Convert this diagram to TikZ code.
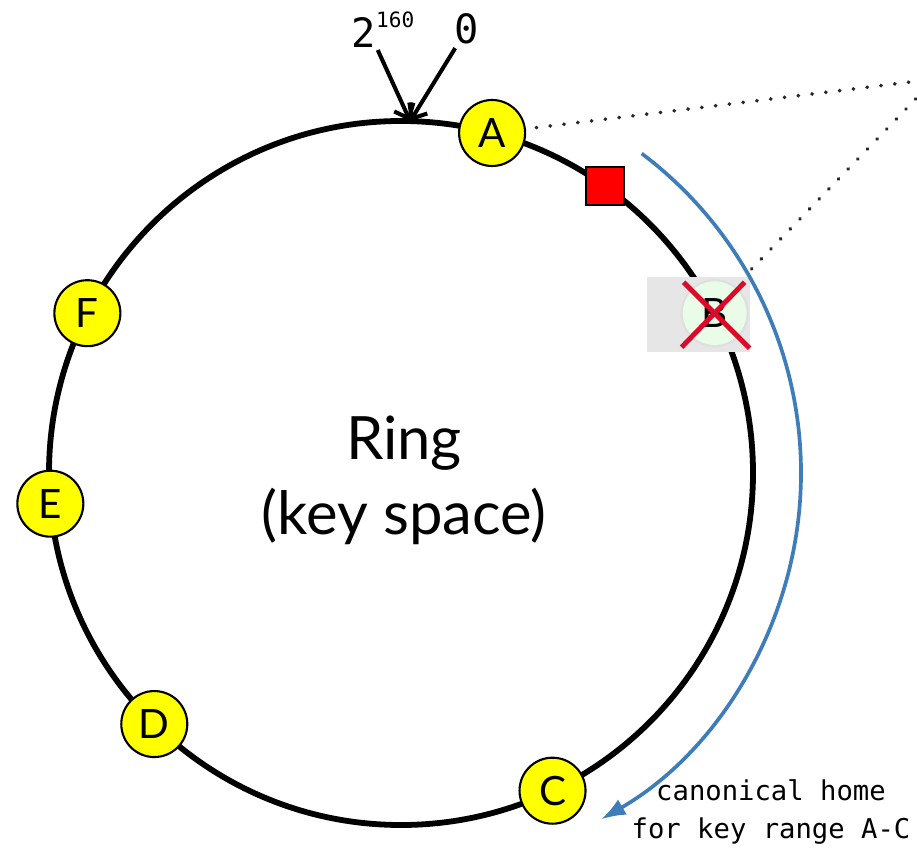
\documentclass[tikz,border=0pt]{standalone}
\usepackage{fontspec}
\usepackage{xcolor}
\usepackage{tikz}
\usetikzlibrary{arrows.meta}
\setmainfont{Lato}
\newfontfamily\monofont{DejaVu Sans Mono}
\definecolor{ring_yellow}{RGB}{255, 255, 0}
\definecolor{ring_red}{RGB}{255, 0, 0}
\definecolor{cross_red}{RGB}{220, 10, 40}
\definecolor{home_blue}{RGB}{62, 125, 185}
\definecolor{gone_gray}{RGB}{230, 230, 230}
\definecolor{gone_green}{RGB}{232, 252, 232}

\begin{document}
\begin{tikzpicture}[
    peer/.style={circle, draw=black, line width=1.2pt, fill=ring_yellow,
      minimum size=1.32cm, inner sep=0pt, font=\fontsize{23}{23}\selectfont},
    keyarrow/.style={line width=2.3pt, -{Straight Barb[length=7pt, width=12pt]}},
    zoomline/.style={line width=2.2pt, gray!30!black, dash pattern=on 0.1pt off 7.8pt, line cap=round}
  ]

    \useasboundingbox (-8.02,-7.52) rectangle (10.32,9.46);

    % Ring
    \draw[line width=3.3pt] (0,0) circle (7.04cm);
    \coordinate (zero) at (88.5:7.04);
    \node[font=\fontsize{34}{43}\selectfont, align=center] (ringlabel) at (0.06,-0.15) {Ring\\(key space)};

    % Failed node B
    \node[fill=gone_gray, minimum width=2.06cm, minimum height=1.5cm, inner sep=0pt] (Bbox) at (5.94,3.16) {};
    \node[peer, fill=gone_green, draw=gray!25] (B) at (27:7.04) {B};
    \draw[cross_red, line width=2.8pt] ([shift={(-0.62,0.62)}]B.center) -- ([shift={(0.7,-0.7)}]B.center);
    \draw[cross_red, line width=2.8pt] ([shift={(0.6,0.62)}]B.center) -- ([shift={(-0.66,-0.68)}]B.center);

    % Key on the ring
    \node[draw=black, line width=1.2pt, fill=ring_red, minimum size=0.76cm, inner sep=0pt] (key) at (54.5:7.04) {};

    % Nodes
    \foreach \name/\ang in {A/75, C/-64.5, D/-134.5, E/185, F/153} {
      \node[peer] (\name) at (\ang:7.04) {\name};
    }

    % Range of C
    \draw[home_blue, line width=2.1pt, -{Latex[length=14pt, width=10pt]}] (53:8) arc[start angle=53, end angle=-60, radius=8cm];
    \node[font=\monofont\fontsize{15.5}{21.5}\selectfont, align=center] (homelabel) at (7.4,-6.78) {canonical home\\for key range A-C};

    % Zoom lines
    \coordinate (zoom) at (10.68,7.88);
    \coordinate (bend) at (29.8:7.92);
    \draw[zoomline, shorten <=6pt] (A) -- (zoom);
    \draw[zoomline] (zoom) -- (bend);

    % Wrap-around point
    \node[font=\monofont\fontsize{23}{23}\selectfont, inner sep=1pt] (lbl160) at (-0.36,8.86)
      {2\raisebox{0.5em}{\fontsize{12}{12}\selectfont 160}};
    \node[font=\monofont\fontsize{23}{23}\selectfont, inner sep=2pt] (lblzero) at (1.32,8.88) {0};
    \draw[keyarrow] ([xshift=-3pt]lbl160.south) -- (zero);
    \draw[keyarrow] (lblzero) -- (zero);

  \end{tikzpicture}
\end{document}
